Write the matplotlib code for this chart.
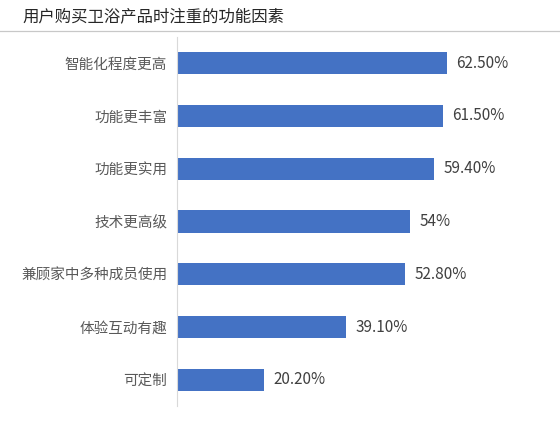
import matplotlib
matplotlib.use("Agg")
import matplotlib.pyplot as plt
from matplotlib.lines import Line2D

plt.rcParams['font.family'] = ['Noto Sans CJK SC', 'DejaVu Sans']

#Chart data
title = "用户购买卫浴产品时注重的功能因素"
categories = ["智能化程度更高", "功能更丰富", "功能更实用", "技术更高级",
              "兼顾家中多种成员使用", "体验互动有趣", "可定制"]
values = [62.5, 61.5, 59.4, 54, 52.8, 39.1, 20.2]
value_labels = ["62.50%", "61.50%", "59.40%", "54%", "52.80%", "39.10%", "20.20%"]

fig = plt.figure(figsize=(5.6, 4.28), dpi=100)
ax = fig.add_axes([0.316, 0.0505, 0.617, 0.864])

pos = list(range(len(categories)))
ax.barh(pos, values, height=0.42, color="#4472C4")
ax.set_ylim(len(categories) - 0.5, -0.5)
ax.set_xlim(0, 80)

ax.set_yticks(pos)
ax.set_yticklabels(categories, fontsize=10.5, color="#595959")
ax.tick_params(axis="y", length=0, pad=7)
ax.set_xticks([])

for s in ["top", "right", "bottom"]:
    ax.spines[s].set_visible(False)
ax.spines["left"].set_color("#d9d9d9")

for p, v, lab in zip(pos, values, value_labels):
    ax.annotate(lab, (v, p), xytext=(7, 0), textcoords="offset points",
                va="center", ha="left", fontsize=11, color="#404040")

#Title and separator line
fig.text(22 / 560, 1 - 18 / 428, title, fontsize=11.8, color="#262626",
         va="center", ha="left")
fig.add_artist(Line2D([0, 1], [1 - 31 / 428, 1 - 31 / 428],
                      color="#c8c8c8", linewidth=0.9))

fig.savefig("out.png", dpi=100)
